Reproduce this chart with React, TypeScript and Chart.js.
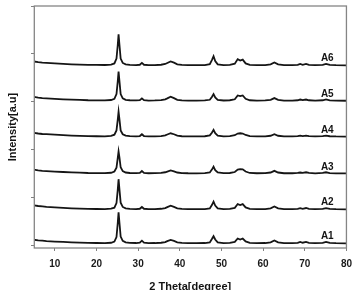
import { useEffect, useRef } from 'react';
import { Chart, registerables } from 'chart.js';

Chart.register(...registerables);

// 2θ sample positions (degrees)
const TWO_THETA = [
  5, 6, 7, 8, 9, 10, 12, 14, 16, 18, 20, 22, 23.5,
  24.3, 24.8, 25.1, 25.3, 25.5, 25.8, 26.3, 27,
  28, 29.5, 30.4, 30.9, 31.4, 32.5, 34, 35.5, 36.5, 37, 37.8, 38.6, 39.4,
  40.5, 42, 44, 46, 47.2, 47.7, 48.1, 48.5, 49.1,
  50.5, 52, 53.2, 53.9, 54.5, 55.1, 55.8, 56.8,
  58.5, 60.5, 61.8, 62.7, 63.6, 65, 67,
  68.3, 68.9, 69.5, 70.3, 71, 72.5, 74.3, 75.1, 76, 77.5, 80,
];

// Intensities above each trace's own baseline [a.u.]
const A1 = [
  0.075, 0.06, 0.055, 0.045, 0.04, 0.035, 0.028, 0.02, 0.015, 0.01, 0.006, 0.005, 0.012,
  0.035, 0.13, 0.42, 0.65, 0.44, 0.14, 0.05, 0.02,
  0.01, 0.006, 0.012, 0.055, 0.012, 0.004, 0.006, 0.012, 0.025, 0.045, 0.07, 0.05, 0.02,
  0.008, 0.004, 0.003, 0.006, 0.02, 0.09, 0.15, 0.08, 0.02,
  0.005, 0.01, 0.03, 0.10, 0.08, 0.10, 0.04, 0.01,
  0.004, 0.006, 0.02, 0.06, 0.02, 0.004, 0.004,
  0.01, 0.03, 0.012, 0.028, 0.01, 0.003, 0.01, 0.03, 0.008, 0.003, 0.0,
];
const A2 = [
  0.085, 0.07, 0.06, 0.05, 0.045, 0.04, 0.03, 0.022, 0.016, 0.01, 0.007, 0.006, 0.014,
  0.035, 0.13, 0.40, 0.63, 0.43, 0.14, 0.05, 0.02,
  0.01, 0.006, 0.012, 0.05, 0.012, 0.004, 0.006, 0.012, 0.025, 0.045, 0.075, 0.05, 0.02,
  0.008, 0.004, 0.003, 0.006, 0.02, 0.09, 0.16, 0.08, 0.02,
  0.005, 0.01, 0.03, 0.11, 0.09, 0.11, 0.04, 0.01,
  0.004, 0.006, 0.02, 0.06, 0.02, 0.004, 0.004,
  0.01, 0.025, 0.012, 0.028, 0.01, 0.003, 0.01, 0.025, 0.008, 0.003, 0.0,
];
const A3 = [
  0.08, 0.065, 0.055, 0.05, 0.045, 0.04, 0.03, 0.022, 0.016, 0.01, 0.008, 0.007, 0.015,
  0.04, 0.12, 0.32, 0.46, 0.34, 0.13, 0.05, 0.02,
  0.01, 0.006, 0.012, 0.05, 0.012, 0.004, 0.006, 0.012, 0.025, 0.04, 0.065, 0.045, 0.02,
  0.008, 0.004, 0.003, 0.006, 0.02, 0.08, 0.14, 0.07, 0.02,
  0.005, 0.01, 0.03, 0.08, 0.09, 0.085, 0.04, 0.01,
  0.004, 0.006, 0.02, 0.055, 0.02, 0.004, 0.004,
  0.01, 0.02, 0.012, 0.025, 0.01, 0.003, 0.01, 0.025, 0.008, 0.003, 0.0,
];
const A4 = [
  0.08, 0.065, 0.055, 0.05, 0.045, 0.04, 0.03, 0.022, 0.016, 0.01, 0.008, 0.007, 0.015,
  0.04, 0.13, 0.35, 0.52, 0.37, 0.13, 0.05, 0.02,
  0.01, 0.006, 0.012, 0.05, 0.012, 0.004, 0.006, 0.012, 0.025, 0.045, 0.07, 0.05, 0.02,
  0.008, 0.004, 0.003, 0.008, 0.025, 0.08, 0.14, 0.07, 0.02,
  0.006, 0.012, 0.03, 0.065, 0.07, 0.065, 0.035, 0.01,
  0.004, 0.006, 0.018, 0.05, 0.018, 0.004, 0.004,
  0.01, 0.022, 0.012, 0.022, 0.01, 0.003, 0.01, 0.022, 0.008, 0.003, 0.0,
];
const A5 = [
  0.08, 0.065, 0.055, 0.05, 0.045, 0.04, 0.03, 0.022, 0.016, 0.01, 0.008, 0.007, 0.015,
  0.04, 0.14, 0.40, 0.61, 0.42, 0.14, 0.05, 0.02,
  0.01, 0.006, 0.012, 0.05, 0.012, 0.004, 0.006, 0.012, 0.03, 0.05, 0.085, 0.055, 0.02,
  0.008, 0.004, 0.003, 0.006, 0.02, 0.08, 0.14, 0.07, 0.02,
  0.005, 0.01, 0.03, 0.11, 0.095, 0.11, 0.04, 0.01,
  0.004, 0.006, 0.02, 0.055, 0.02, 0.004, 0.004,
  0.01, 0.025, 0.012, 0.025, 0.01, 0.003, 0.01, 0.028, 0.008, 0.003, 0.0,
];
const A6 = [
  0.08, 0.065, 0.055, 0.05, 0.045, 0.04, 0.03, 0.022, 0.016, 0.01, 0.008, 0.007, 0.015,
  0.04, 0.14, 0.42, 0.65, 0.44, 0.14, 0.05, 0.02,
  0.01, 0.006, 0.012, 0.05, 0.012, 0.004, 0.006, 0.012, 0.028, 0.048, 0.08, 0.055, 0.02,
  0.008, 0.004, 0.003, 0.006, 0.025, 0.11, 0.19, 0.09, 0.02,
  0.005, 0.01, 0.035, 0.13, 0.10, 0.12, 0.04, 0.01,
  0.004, 0.006, 0.02, 0.06, 0.02, 0.004, 0.004,
  0.01, 0.03, 0.012, 0.03, 0.01, 0.003, 0.01, 0.03, 0.008, 0.003, 0.0,
];

const SERIES_NAMES = ['A1', 'A2', 'A3', 'A4', 'A5', 'A6'];
// vertical stacking offset of each trace
const OFFSETS = [0.04, 0.75, 1.5, 2.27, 3.02, 3.76];
const X_TICKS = [10, 20, 30, 40, 50, 60, 70, 80];
const Y_TICKS = [0, 1, 2, 3, 4, 5];
const X_TITLE = '2 Theta[degree]';
const Y_TITLE = 'Intensity[a.u]';
const LABEL_THETA = 75.4;
const LABEL_LIFT = 0.14;

const FONT = '"Liberation Sans", Arial, Helvetica, sans-serif';

export default function App() {
  const ref = useRef<HTMLCanvasElement>(null);

  useEffect(() => {
    const canvas = ref.current;
    if (!canvas) return;
    const series = [A1, A2, A3, A4, A5, A6];
    const datasets = series.map((vals, i) => ({
      label: SERIES_NAMES[i],
      data: TWO_THETA.map((t, j) => ({ x: t, y: vals[j] + OFFSETS[i] })),
      borderColor: '#151515',
      borderWidth: 1.8,
      pointRadius: 0,
      tension: 0,
      fill: false,
    }));

    const decor = {
      id: 'decor',
      afterDraw(chart: any) {
        const { ctx, chartArea } = chart;
        const xs = chart.scales.x;
        const ys = chart.scales.y;
        ctx.save();
        ctx.strokeStyle = '#858585';
        ctx.lineWidth = 1.3;
        ctx.strokeRect(chartArea.left + 0.3, chartArea.top, chartArea.right - chartArea.left - 0.3, chartArea.bottom - chartArea.top);
        ctx.fillStyle = '#141414';
        ctx.font = `bold 10px ${FONT}`;
        ctx.textAlign = 'center';
        ctx.textBaseline = 'middle';
        SERIES_NAMES.forEach((name, i) => {
          ctx.fillText(name, xs.getPixelForValue(LABEL_THETA), ys.getPixelForValue(OFFSETS[i] + LABEL_LIFT));
        });
        ctx.font = `bold 11px ${FONT}`;
        ctx.textBaseline = 'alphabetic';
        ctx.fillText(X_TITLE, (chartArea.left + chartArea.right) / 2, 289.5);
        ctx.translate(16, (chartArea.top + chartArea.bottom) / 2);
        ctx.rotate(-Math.PI / 2);
        ctx.fillText(Y_TITLE, 0, 0);
        ctx.restore();
      },
    };

    const chart = new Chart(canvas, {
      type: 'line',
      data: { datasets },
      options: {
        animation: false,
        responsive: false,
        layout: { padding: { top: 6, right: 7, left: 0, bottom: 0 } },
        plugins: { legend: { display: false }, tooltip: { enabled: false } },
        scales: {
          x: {
            type: 'linear',
            min: 5,
            max: 80,
            afterBuildTicks: (s: any) => {
              s.ticks = X_TICKS.map((v) => ({ value: v }));
            },
            afterFit: (s: any) => {
              s.height = 42;
            },
            grid: { drawOnChartArea: false, drawTicks: true, tickLength: 3, color: '#808080' },
            border: { display: false },
            ticks: {
              font: { family: FONT, size: 10, weight: 'bold' },
              color: '#1a1a1a',
              padding: 7,
              maxRotation: 0,
              autoSkip: false,
            },
          },
          y: {
            type: 'linear',
            min: -0.058,
            max: 5,
            afterBuildTicks: (s: any) => {
              s.ticks = Y_TICKS.map((v) => ({ value: v }));
            },
            afterFit: (s: any) => {
              s.width = 34;
            },
            grid: { drawOnChartArea: false, drawTicks: true, tickLength: 3, color: '#808080' },
            border: { display: false },
            ticks: { display: false },
          },
        },
      } as any,
      plugins: [decor],
    });
    return () => chart.destroy();
  }, []);

  return (
    <div style={{ position: 'absolute', left: 0, top: 0, width: 359, height: 290, background: '#fff' }}>
      <canvas ref={ref} width={359} height={290} style={{ display: 'block' }} />
    </div>
  );
}
